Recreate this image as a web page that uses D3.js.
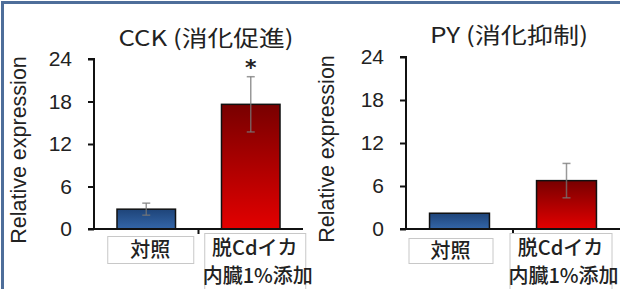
<!DOCTYPE html>
<html>
<head>
<meta charset="utf-8">
<script src="https://cdn.jsdelivr.net/npm/d3@7"></script>
<style>
  body { margin: 0; background: #fff; }
  text { font-family: "Liberation Sans", "Noto Sans CJK JP", sans-serif; fill: #222; }
  .jp { font-family: "Noto Sans CJK JP", sans-serif; }
</style>
</head>
<body>
<svg id="chart"></svg>
<script>
const categories = ['対照', '脱Cdイカ\n内臓1%添加'];
const yTicks = [0, 6, 12, 18, 24];
const cckValues = [2.8, 17.6];
const cckErrors = [0.85, 3.9];
const pyValues = [2.2, 6.75];
const pyErrors = [0, 2.4];
const titles = ['CCK (消化促進)', 'PY (消化抑制)'];
const marks = [['', '*'], ['', '']];

const svg = d3.select('#chart').attr('width', 620).attr('height', 289);

const defs = svg.append('defs');
const blue = defs.append('linearGradient').attr('id', 'gblue').attr('x1', 0).attr('y1', 0).attr('x2', 0).attr('y2', 1);
blue.append('stop').attr('offset', '0%').attr('stop-color', '#1e4479');
blue.append('stop').attr('offset', '100%').attr('stop-color', '#3466a8');
const red = defs.append('linearGradient').attr('id', 'gred').attr('x1', 0).attr('y1', 0).attr('x2', 0).attr('y2', 1);
red.append('stop').attr('offset', '0%').attr('stop-color', '#780000');
red.append('stop').attr('offset', '100%').attr('stop-color', '#e30000');
const fills = ['url(#gblue)', 'url(#gred)'];

// frame
svg.append('path')
    .attr('d', 'M2.5,289 L2.5,2.5 L620,2.5')
    .attr('fill', 'none')
    .attr('stroke', '#4e6e9a')
    .attr('stroke-width', 3);

function panel(cfg) {
    const g = svg.append('g');

    const y = d3.scaleLinear().domain([0, 24]).range([229, cfg.top]);
    const x = d3.scalePoint().domain(categories).range([cfg.axisX, cfg.right]).padding(0.5);
    const step = x.step();
    const bw = step * 0.56;

    const yaxis = d3.axisLeft(y).tickValues(yTicks).tickSize(6).tickPadding(16);
    const ya = g.append('g').attr('transform', `translate(${cfg.axisX},0)`).call(yaxis);
    ya.select('.domain').attr('stroke', '#111').attr('stroke-width', 2).attr('d', `M-6,${y(24)}H0V${y(0)}`);
    ya.selectAll('.tick line').attr('stroke', '#111').attr('stroke-width', 2);
    ya.selectAll('.tick text').style('font-size', '21px').attr('fill', '#1a1a1a')
        .style('font-family', '"Liberation Sans", sans-serif');

    // bars
    g.selectAll('.bar').data(cfg.values).join('rect')
        .attr('x', (d, i) => x(categories[i]) - bw / 2)
        .attr('y', d => y(d))
        .attr('width', bw)
        .attr('height', d => y(0) - y(d))
        .attr('fill', (d, i) => fills[i])
        .attr('stroke', '#111')
        .attr('stroke-width', 1.5);

    // error bars
    cfg.values.forEach((v, i) => {
        const e = cfg.errors[i];
        if (!e) return;
        const cx = x(categories[i]);
        g.append('line').attr('x1', cx).attr('x2', cx).attr('y1', y(v + e)).attr('y2', y(v - e))
            .attr('stroke', '#777').attr('stroke-opacity', 0.75).attr('stroke-width', 1.5);
        [v + e, v - e].forEach(t => {
            g.append('line').attr('x1', cx - 4).attr('x2', cx + 4).attr('y1', y(t)).attr('y2', y(t))
                .attr('stroke', '#777').attr('stroke-opacity', 0.75).attr('stroke-width', 1.5);
        });
        if (cfg.marks[i]) {
            g.append('text').attr('x', cx).attr('y', y(v + e) - 2)
                .attr('text-anchor', 'middle')
                .style('font-family', '"DejaVu Sans", sans-serif')
                .style('font-size', '22px')
                .style('font-weight', 'bold')
                .text(cfg.marks[i]);
        }
    });

    // x axis
    g.append('line').attr('x1', cfg.axisX - 6).attr('x2', cfg.lineEnd).attr('y1', y(0)).attr('y2', y(0))
        .attr('stroke', '#111').attr('stroke-width', 2);
    const mid = (x(categories[0]) + x(categories[1])) / 2;
    g.append('line').attr('x1', mid).attr('x2', mid).attr('y1', y(0)).attr('y2', y(0) + 5)
        .attr('stroke', '#111').attr('stroke-width', 2);

    // category boxes
    cfg.boxes.forEach((b, i) => {
        const cx = x(categories[i]) + b.dx;
        g.append('rect').attr('x', cx - b.w / 2 + 0.5).attr('y', b.y + 0.5).attr('width', b.w).attr('height', b.h)
            .attr('fill', '#fff').attr('stroke', '#c8c8c8').attr('stroke-width', 1);
        const lines = categories[i].split('\n');
        lines.forEach((l, k) => {
            g.append('text').attr('class', 'jp').attr('x', cx + (k ? 3 : 0)).attr('y', b.ty + k * 28)
                .attr('text-anchor', 'middle')
                .style('font-size', '20px')
                .style('font-weight', 500)
                .text(l);
        });
    });

    // title
    g.append('text').attr('class', 'jp').attr('x', cfg.titleX).attr('y', cfg.titleY)
        .attr('text-anchor', 'middle')
        .attr('textLength', cfg.titleW)
        .attr('lengthAdjust', 'spacingAndGlyphs')
        .style('font-size', '22px')
        .text(cfg.title);

    // y label
    g.append('text')
        .attr('transform', `translate(${cfg.labelX},${(y(0) + y(24)) / 2 + 6}) rotate(-90)`)
        .attr('text-anchor', 'middle')
        .style('font-size', '21.5px')
        .text('Relative expression');
}

panel({
    axisX: 94, right: 303, lineEnd: 303, top: 59,
    values: cckValues, errors: cckErrors, marks: marks[0],
    title: titles[0], titleX: 206, titleY: 46, titleW: 175, labelX: 26,
    boxes: [{ dx: 4, w: 86, y: 236, h: 27, ty: 257 }, { dx: 4, w: 101, y: 233, h: 60, ty: 255 }]
});

panel({
    axisX: 406, right: 620, lineEnd: 620, top: 57,
    values: pyValues, errors: pyErrors, marks: marks[1],
    title: titles[1], titleX: 509, titleY: 43, titleW: 158, labelX: 334,
    boxes: [{ dx: -9, w: 84, y: 238, h: 25, ty: 258 }, { dx: -6, w: 102, y: 233, h: 60, ty: 255 }]
});
</script>
</body>
</html>
